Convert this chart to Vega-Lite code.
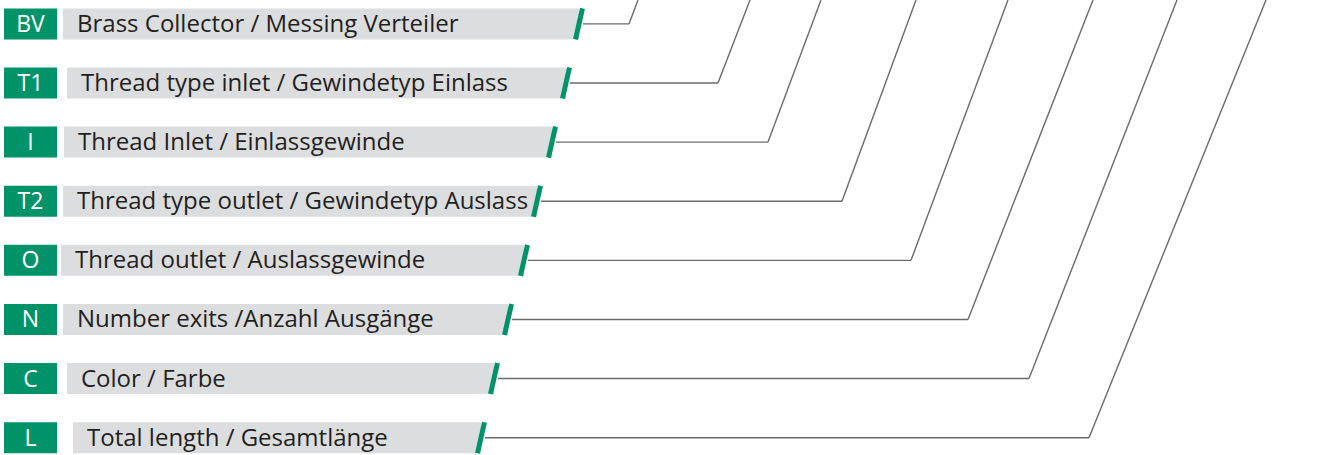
{
  "$schema": "https://vega.github.io/schema/vega-lite/v6.json",
  "width": 1341,
  "height": 455,
  "padding": 0,
  "autosize": {"type": "none"},
  "background": "white",
  "config": {"view": {"stroke": null}, "scale": {"continuousPadding": 0}},
  "data": {
    "values": [
      {"code": "BV", "order": 1, "label": "Brass Collector / Messing Verteiler", "barStart": 63, "barEnd": 579, "bend": 629, "exit": 638},
      {"code": "T1", "order": 2, "label": "Thread type inlet / Gewindetyp Einlass", "barStart": 67, "barEnd": 566, "bend": 718, "exit": 750},
      {"code": "I", "order": 3, "label": "Thread Inlet / Einlassgewinde", "barStart": 64, "barEnd": 552, "bend": 768, "exit": 821},
      {"code": "T2", "order": 4, "label": "Thread type outlet / Gewindetyp Auslass", "barStart": 63, "barEnd": 537, "bend": 842, "exit": 916},
      {"code": "O", "order": 5, "label": "Thread outlet / Auslassgewinde", "barStart": 61, "barEnd": 524, "bend": 911, "exit": 1008},
      {"code": "N", "order": 6, "label": "Number exits /Anzahl Ausgänge", "barStart": 63, "barEnd": 508, "bend": 968, "exit": 1093},
      {"code": "C", "order": 7, "label": "Color / Farbe", "barStart": 67, "barEnd": 494, "bend": 1029, "exit": 1177},
      {"code": "L", "order": 8, "label": "Total length / Gesamtlänge", "barStart": 73, "barEnd": 481, "bend": 1089, "exit": 1266}
    ]
  },
  "layer": [
    {
      "mark": {"type": "rule", "stroke": "#6b6b6b", "strokeWidth": 1.4, "xOffset": 4},
      "encoding": {
        "x": {"field": "barEnd", "type": "quantitative", "axis": null, "scale": {"domain": [0, 1341], "nice": false, "zero": false, "padding": 0}},
        "x2": {"field": "bend"},
        "y": {"field": "order", "type": "quantitative", "axis": null, "scale": {"domain": [0.596, 8.293], "reverse": true, "nice": false, "zero": false, "padding": 0}}
      }
    },
    {
      "mark": {"type": "rule", "stroke": "#6b6b6b", "strokeWidth": 1.4, "clip": true},
      "encoding": {
        "x": {"field": "bend", "type": "quantitative", "axis": null, "scale": {"domain": [0, 1341], "nice": false, "zero": false, "padding": 0}},
        "x2": {"field": "exit"},
        "y": {"field": "order", "type": "quantitative", "axis": null, "scale": {"domain": [0.596, 8.293], "reverse": true, "nice": false, "zero": false, "padding": 0}},
        "y2": {"datum": 0.596}
      }
    },
    {
      "mark": {"type": "bar", "orient": "horizontal", "size": 31, "color": "#dcdddf"},
      "encoding": {
        "x": {"field": "barStart", "type": "quantitative", "axis": null, "scale": {"domain": [0, 1341], "nice": false, "zero": false, "padding": 0}},
        "x2": {"field": "barEnd"},
        "y": {"field": "order", "type": "quantitative", "axis": null, "scale": {"domain": [0.596, 8.293], "reverse": true, "nice": false, "zero": false, "padding": 0}}
      }
    },
    {
      "mark": {"type": "bar", "orient": "horizontal", "size": 31, "color": "#00936a"},
      "encoding": {
        "x": {"datum": 4, "type": "quantitative", "axis": null, "scale": {"domain": [0, 1341], "nice": false, "zero": false, "padding": 0}},
        "x2": {"datum": 57},
        "y": {"field": "order", "type": "quantitative", "axis": null, "scale": {"domain": [0.596, 8.293], "reverse": true, "nice": false, "zero": false, "padding": 0}}
      }
    },
    {
      "mark": {"type": "rule", "stroke": "#00936a", "strokeWidth": 5, "strokeCap": "butt", "xOffset": 3.5, "x2Offset": -3.5, "yOffset": -15.5, "y2Offset": 15.5},
      "encoding": {
        "x": {"field": "barEnd", "type": "quantitative", "axis": null, "scale": {"domain": [0, 1341], "nice": false, "zero": false, "padding": 0}},
        "x2": {"field": "barEnd"},
        "y": {"field": "order", "type": "quantitative", "axis": null, "scale": {"domain": [0.596, 8.293], "reverse": true, "nice": false, "zero": false, "padding": 0}},
        "y2": {"field": "order"}
      }
    },
    {
      "mark": {"type": "text", "align": "left", "baseline": "middle", "dx": 14, "dy": 1, "font": "Open Sans", "fontSize": 24, "color": "#231f20"},
      "encoding": {
        "x": {"field": "barStart", "type": "quantitative", "axis": null, "scale": {"domain": [0, 1341], "nice": false, "zero": false, "padding": 0}},
        "y": {"field": "order", "type": "quantitative", "axis": null, "scale": {"domain": [0.596, 8.293], "reverse": true, "nice": false, "zero": false, "padding": 0}},
        "text": {"field": "label"}
      }
    },
    {
      "mark": {"type": "text", "align": "center", "baseline": "middle", "dy": 1, "font": "Open Sans", "fontSize": 23, "fontWeight": 500, "color": "white"},
      "encoding": {
        "x": {"datum": 30.5, "type": "quantitative", "axis": null, "scale": {"domain": [0, 1341], "nice": false, "zero": false, "padding": 0}},
        "y": {"field": "order", "type": "quantitative", "axis": null, "scale": {"domain": [0.596, 8.293], "reverse": true, "nice": false, "zero": false, "padding": 0}},
        "text": {"field": "code"}
      }
    }
  ]
}
